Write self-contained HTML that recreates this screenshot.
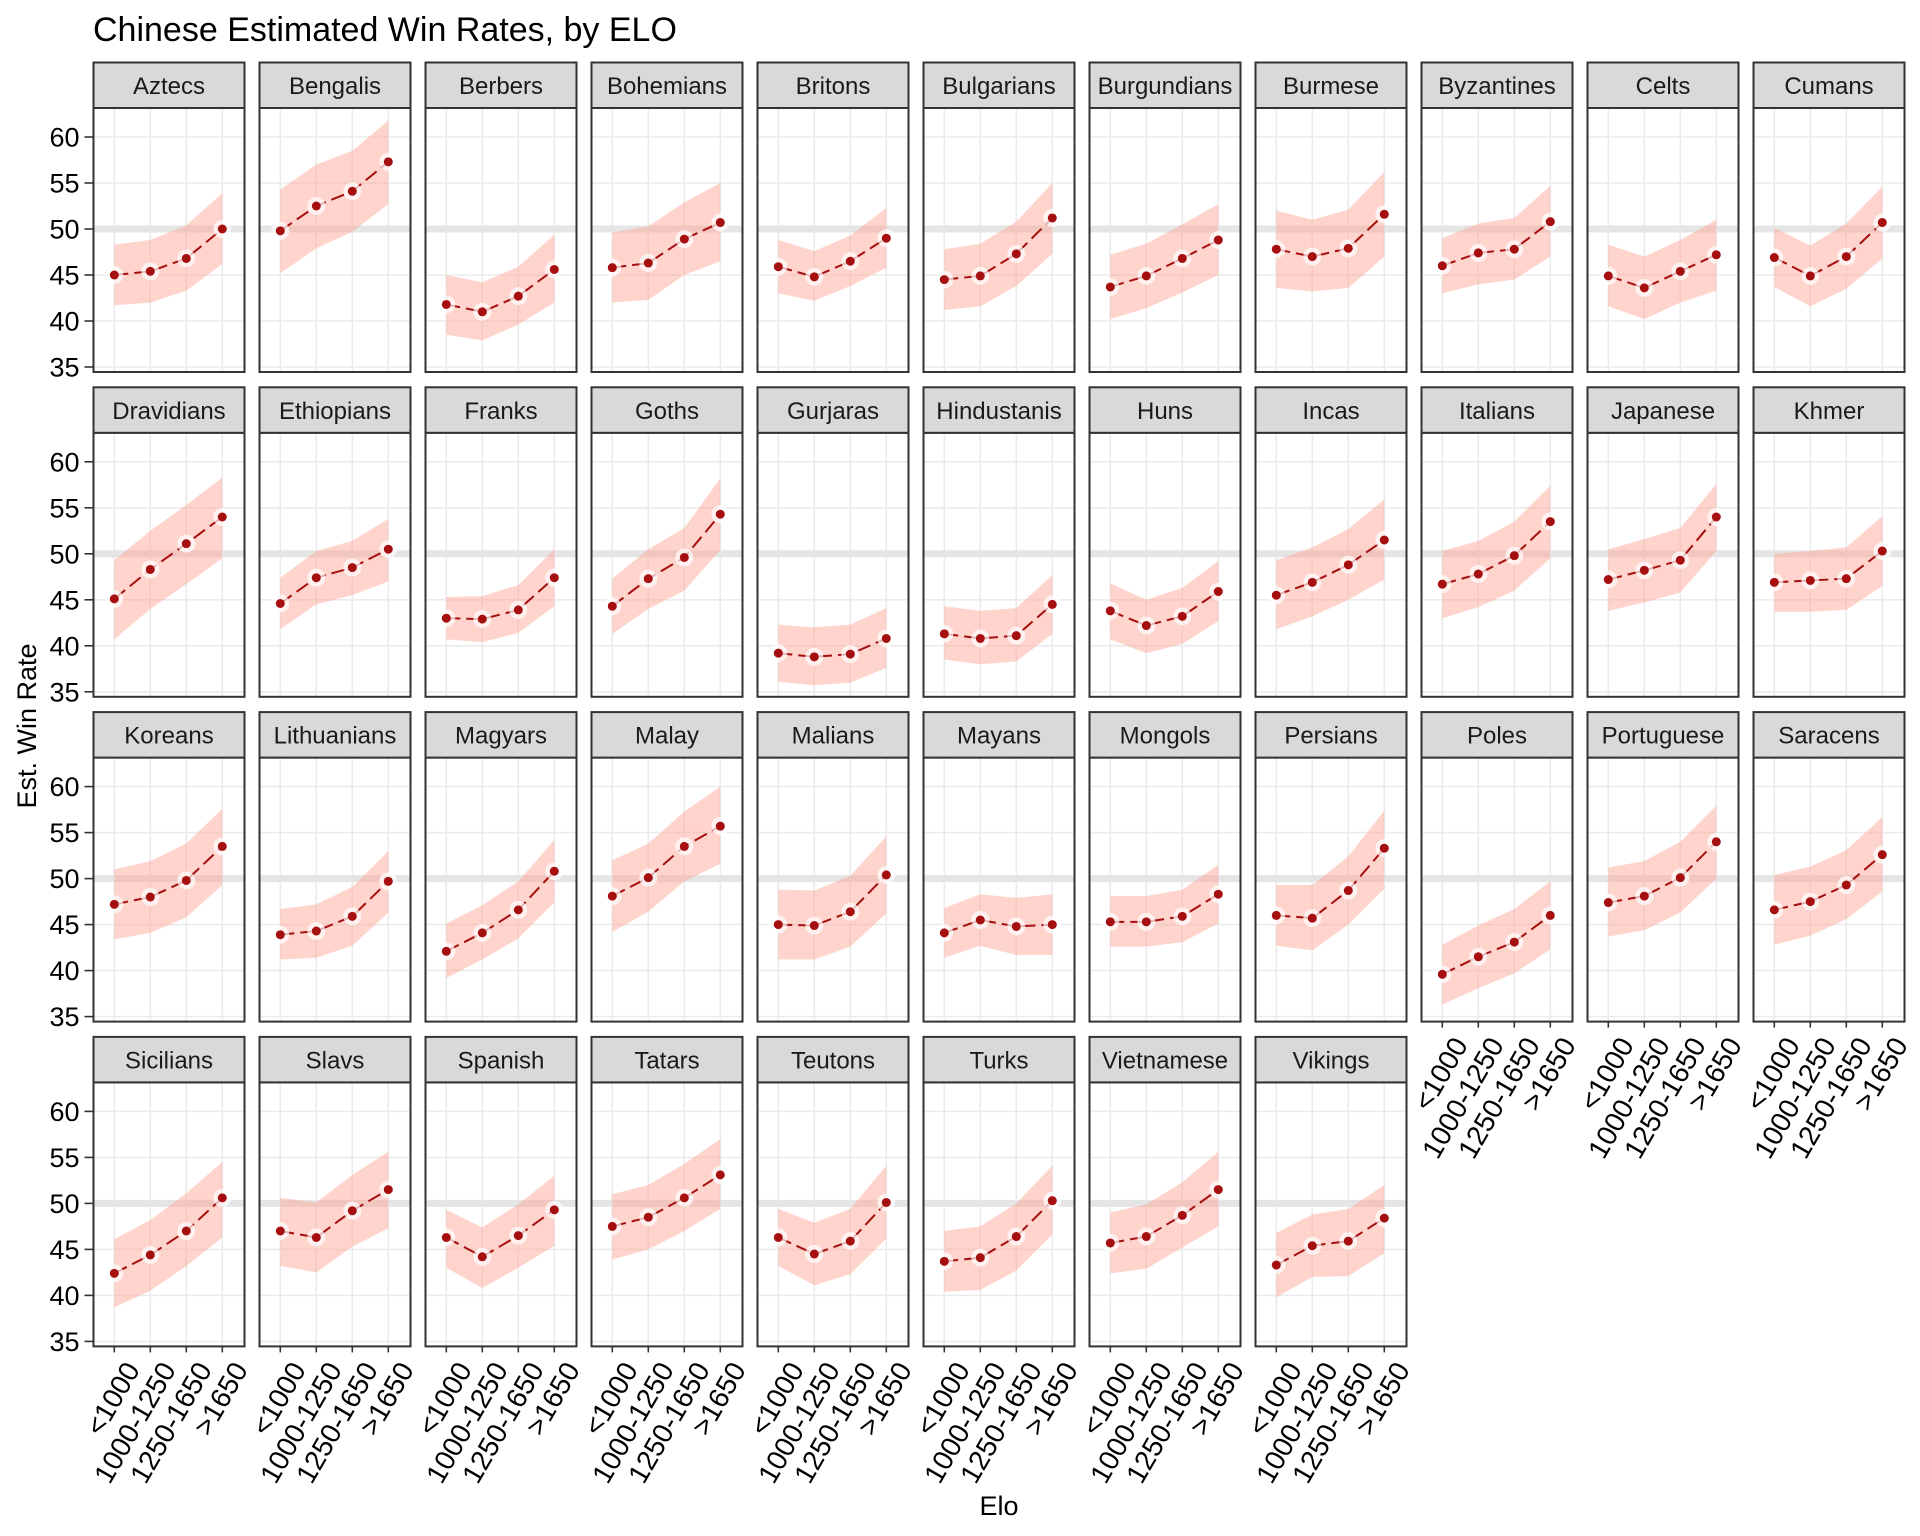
<!DOCTYPE html>
<html><head><meta charset="utf-8"><style>
body{margin:0;background:#fff}
svg{display:block;font-family:"Liberation Sans",Arial,sans-serif}
</style></head><body>
<svg id="chart" width="1920" height="1536" viewBox="0 0 1920 1536" xmlns="http://www.w3.org/2000/svg">
<rect width="1920" height="1536" fill="#fff"/>
<text x="93" y="41" font-size="34" fill="#000">Chinese Estimated Win Rates, by ELO</text>
<text x="999" y="1515" font-size="27" text-anchor="middle" fill="#000">Elo</text>
<text transform="translate(36,726) rotate(-90)" font-size="27" text-anchor="middle" fill="#000">Est. Win Rate</text>
<g id="panels"></g>
</svg>
<script>
const categories = ["<1000","1000-1250","1250-1650",">1650"];
const yTicks = [35,40,45,50,55,60];
const civs = ["Aztecs","Bengalis","Berbers","Bohemians","Britons","Bulgarians","Burgundians","Burmese","Byzantines","Celts","Cumans",
"Dravidians","Ethiopians","Franks","Goths","Gurjaras","Hindustanis","Huns","Incas","Italians","Japanese","Khmer",
"Koreans","Lithuanians","Magyars","Malay","Malians","Mayans","Mongols","Persians","Poles","Portuguese","Saracens",
"Sicilians","Slavs","Spanish","Tatars","Teutons","Turks","Vietnamese","Vikings"];
const estimates = [
[45,45.4,46.8,50],[49.8,52.5,54.1,57.3],[41.8,41,42.7,45.6],[45.8,46.3,48.9,50.7],[45.9,44.8,46.5,49],[44.5,44.9,47.3,51.2],[43.7,44.9,46.8,48.8],[47.8,47,47.9,51.6],[46,47.4,47.8,50.8],[44.9,43.6,45.4,47.2],[46.9,44.9,47,50.7],
[45.1,48.3,51.1,54],[44.6,47.4,48.5,50.5],[43,42.9,43.9,47.4],[44.3,47.3,49.6,54.3],[39.2,38.8,39.1,40.8],[41.3,40.8,41.1,44.5],[43.8,42.2,43.2,45.9],[45.5,46.9,48.8,51.5],[46.7,47.8,49.8,53.5],[47.2,48.2,49.3,54],[46.9,47.1,47.3,50.3],
[47.2,48,49.8,53.5],[43.9,44.3,45.9,49.7],[42.1,44.1,46.6,50.8],[48.1,50.1,53.5,55.7],[45,44.9,46.4,50.4],[44.1,45.5,44.8,45],[45.3,45.3,45.9,48.3],[46,45.7,48.7,53.3],[39.6,41.5,43.1,46],[47.4,48.1,50.1,54],[46.6,47.5,49.3,52.6],
[42.4,44.4,47,50.6],[47,46.3,49.2,51.5],[46.3,44.2,46.5,49.3],[47.5,48.5,50.6,53.1],[46.3,44.5,45.9,50.1],[43.7,44.1,46.4,50.3],[45.7,46.4,48.7,51.5],[43.3,45.4,45.9,48.4]];
const lowers = [
[41.7,42,43.3,46.2],[45.2,47.9,49.7,52.7],[38.5,37.9,39.6,42],[42,42.3,45,46.5],[43,42.2,43.8,45.8],[41.2,41.6,43.8,47.3],[40.2,41.4,43.1,45],[43.6,43.2,43.6,47],[43,44,44.5,47],[41.6,40.2,42,43.3],[43.7,41.6,43.5,46.8],
[40.7,44,46.7,49.5],[41.8,44.5,45.5,47],[40.7,40.4,41.4,44.3],[41.3,44,46,50.4],[36.1,35.7,36,37.6],[38.5,38,38.3,41.3],[40.7,39.2,40.2,42.7],[41.8,43.2,45,47.2],[43,44.2,46,49.5],[43.8,44.7,45.8,50.3],[43.7,43.7,43.9,46.5],
[43.4,44.1,45.8,49.3],[41.2,41.4,42.7,46.3],[39.2,41.2,43.5,47.4],[44.2,46.4,49.7,51.6],[41.2,41.2,42.6,46.2],[41.4,42.7,41.7,41.7],[42.6,42.6,43.1,45.1],[42.7,42.2,45,48.9],[36.3,38.1,39.7,42.3],[43.7,44.4,46.3,50],[42.8,43.8,45.6,48.6],
[38.7,40.5,43.2,46.3],[43.2,42.5,45.3,47.3],[43,40.8,43,45.4],[43.9,45,47,49.4],[43.2,41.1,42.3,46.2],[40.4,40.6,42.7,46.6],[42.4,42.9,45.2,47.5],[39.8,42,42.1,44.6]];
const uppers = [
[48.3,48.8,50.4,53.9],[54.3,57,58.5,61.8],[45,44.2,45.9,49.4],[49.6,50.3,52.9,55],[48.8,47.6,49.3,52.3],[47.8,48.4,50.8,55],[47.2,48.4,50.5,52.7],[52,51,52.1,56.2],[49,50.6,51.2,54.7],[48.3,47,48.8,51],[50.1,48.2,50.6,54.6],
[49.3,52.5,55.3,58.3],[47.4,50.3,51.4,53.8],[45.3,45.4,46.6,50.5],[47.3,50.5,52.8,58.2],[42.3,42,42.3,44.1],[44.3,43.8,44.1,47.7],[46.8,45,46.3,49.2],[49.3,50.7,52.7,55.9],[50.3,51.4,53.5,57.4],[50.5,51.6,52.8,57.6],[50,50.3,50.7,54.1],
[51,51.9,53.8,57.6],[46.7,47.2,49.1,53],[45.1,47.1,49.7,54.2],[52,53.8,57.3,60],[48.8,48.7,50.3,54.6],[46.8,48.3,47.9,48.3],[48.1,48.1,48.8,51.5],[49.3,49.3,52.4,57.4],[42.8,44.9,46.7,49.7],[51.2,51.9,54,57.9],[50.4,51.3,53.1,56.7],
[46.1,48.2,51.1,54.5],[50.6,50.1,53.1,55.6],[49.3,47.4,49.9,53],[51,52,54.3,57],[49.4,47.9,49.4,54.1],[47,47.5,50,54.1],[49,49.9,52.3,55.6],[46.8,48.8,49.4,52]];
const referenceLine = 50;

const NS="http://www.w3.org/2000/svg";
const g=document.getElementById('panels');
const COLS=11, PX0=93.5, PITCHX=166, PW=151, STRIP_T=62.5, STRIP_H=45.5, PITCHY=324.8;
function mk(tag,attrs,parent){const e=document.createElementNS(NS,tag);for(const k in attrs)e.setAttribute(k,attrs[k]);(parent||g).appendChild(e);return e;}
function xScale(i,left){return left+20.8+i*36;}
function yScale(v,row){return 229+row*PITCHY-(v-50)*9.2;}

civs.forEach((name,idx)=>{
  const row=Math.floor(idx/COLS), col=idx%COLS;
  const left=PX0+col*PITCHX, top=STRIP_T+row*PITCHY+STRIP_H;
  const pb=372+row*PITCHY;
  const pg=mk('g',{});
  
  
  yTicks.forEach(t=>{const y=yScale(t,row);mk('line',{x1:left,x2:left+PW,y1:y,y2:y,stroke:'#ebebeb','stroke-width':1.6},pg);});
  categories.forEach((c,i)=>{const x=xScale(i,left);mk('line',{x1:x,x2:x,y1:top,y2:pb,stroke:'#ebebeb','stroke-width':1.6},pg);});
  const hl=mk('line',{x1:left,x2:left+PW,y1:yScale(referenceLine,row),y2:yScale(referenceLine,row),stroke:'#e5e5e5','stroke-width':7},pg);
  
  
  let d='';
  uppers[idx].forEach((v,i)=>{d+=(i?'L':'M')+xScale(i,left)+','+yScale(v,row);});
  for(let i=lowers[idx].length-1;i>=0;i--)d+='L'+xScale(i,left)+','+yScale(lowers[idx][i],row);
  const rib=mk('path',{d:d+'Z',fill:'#ff9f90','fill-opacity':0.45},pg);
  
  
  const pts=estimates[idx].map((v,i)=>xScale(i,left)+','+yScale(v,row)).join(' ');
  const ln=mk('polyline',{points:pts,fill:'none',stroke:'#a50f0f','stroke-width':2,'stroke-dasharray':'14 6'},pg);
  
  
  estimates[idx].forEach((v,i)=>{
    mk('circle',{cx:xScale(i,left),cy:yScale(v,row),r:9,fill:'#fff','fill-opacity':0.7},pg);
  });
  estimates[idx].forEach((v,i)=>{
    const p=mk('circle',{cx:xScale(i,left),cy:yScale(v,row),r:4.5,fill:'#a50f0f'},pg);
    
    
  });
  mk('rect',{x:left,y:top,width:PW,height:pb-top,fill:'none',stroke:'#333','stroke-width':2},pg);
  const st=mk('rect',{x:left,y:STRIP_T+row*PITCHY,width:PW,height:STRIP_H,fill:'#d9d9d9',stroke:'#333','stroke-width':2},pg);
  
  
  const tx=mk('text',{x:left+PW/2,y:STRIP_T+row*PITCHY+31.5,'font-size':24,'text-anchor':'middle',fill:'#1a1a1a'},pg);
  tx.textContent=name;
  
  
  if(col===0){
    yTicks.forEach(t=>{const y=yScale(t,row);
      mk('line',{x1:left-9,x2:left,y1:y,y2:y,stroke:'#333','stroke-width':1.6},pg);
      const yl=mk('text',{x:left-14,y:y+9.5,'font-size':27,'text-anchor':'end',fill:'#000'},pg);
      yl.textContent=t;
      
      
    });
  }
  const below=idx+COLS;
  if(below>=civs.length){
    categories.forEach((c,i)=>{const x=xScale(i,left);
      mk('line',{x1:x,x2:x,y1:pb,y2:pb+6,stroke:'#333','stroke-width':1.6},pg);
      const xl=mk('text',{transform:'translate('+(x+9)+','+(pb+13)+') rotate(-60)','font-size':28,'text-anchor':'end','dominant-baseline':'hanging',fill:'#000'},pg);
      xl.textContent=c;
      
      
    });
  }
});
</script>
</body></html>
